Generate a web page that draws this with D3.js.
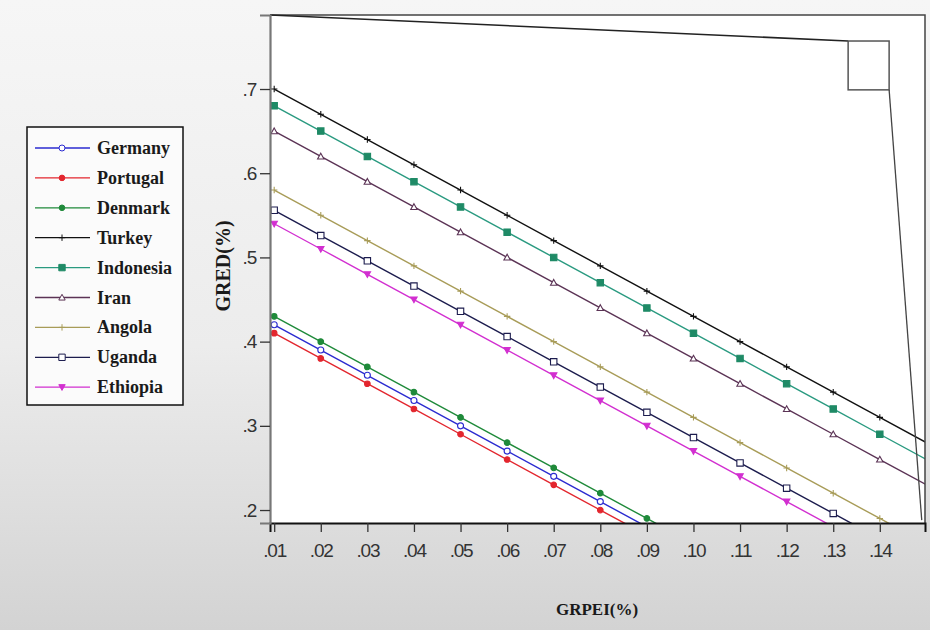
<!DOCTYPE html>
<html>
<head>
<meta charset="utf-8">
<script src="https://cdn.jsdelivr.net/npm/d3@7"></script>
<style>
  body { margin: 0; background: #e8e8e8; }
  #chart { width: 930px; height: 630px; }
</style>
</head>
<body>
<div id="chart"></div>
<script>
(function(){
    var width = 930;
    var height = 630;

    // data
    var xValues = [.01, .02, .03, .04, .05, .06, .07, .08, .09, .10, .11, .12, .13, .14, .15];
    var xTicks = [.01, .02, .03, .04, .05, .06, .07, .08, .09, .10, .11, .12, .13, .14];
    var yTicks = [.2, .3, .4, .5, .6, .7];

    var countries = ["Germany", "Portugal", "Denmark", "Turkey", "Indonesia", "Iran", "Angola", "Uganda", "Ethiopia"];

    var germany   = [.42, .39, .36, .33, .30, .27, .24, .21, .18, .15, .12, .09, .06, .03, .00];
    var portugal  = [.41, .38, .35, .32, .29, .26, .23, .20, .17, .14, .11, .08, .05, .02, -.01];
    var denmark   = [.43, .40, .37, .34, .31, .28, .25, .22, .19, .16, .13, .10, .07, .04, .01];
    var turkey    = [.70, .67, .64, .61, .58, .55, .52, .49, .46, .43, .40, .37, .34, .31, .28];
    var indonesia = [.68, .65, .62, .59, .56, .53, .50, .47, .44, .41, .38, .35, .32, .29, .26];
    var iran      = [.65, .62, .59, .56, .53, .50, .47, .44, .41, .38, .35, .32, .29, .26, .23];
    var angola    = [.58, .55, .52, .49, .46, .43, .40, .37, .34, .31, .28, .25, .22, .19, .16];
    var uganda    = [.556, .526, .496, .466, .436, .406, .376, .346, .316, .286, .256, .226, .196, .166, .136];
    var ethiopia  = [.54, .51, .48, .45, .42, .39, .36, .33, .30, .27, .24, .21, .18, .15, .12];

    var seriesValues = [germany, portugal, denmark, turkey, indonesia, iran, angola, uganda, ethiopia];

    var lineColors   = ["#2b2bd0", "#e3262e", "#1f8a3a", "#111111", "#2a9a80", "#5b3355", "#a89c58", "#1c1c4e", "#d22fd0"];
    var markerColors = ["#2b2bd0", "#e3262e", "#1f8a3a", "#111111", "#1f8a66", "#5b3355", "#a89c58", "#1c1c4e", "#d22fd0"];
    var markerTypes  = ["circleOpen", "dot", "dot", "plus", "square", "triangleOpen", "plus", "squareOpen", "triDown"];

    // zoom callout that sits on the original picture (data units)
    var boxX = [.1332, .1420];
    var boxY = [.757, .699];
    var calloutEnd = [.1490, .188];

    var plot = {left: 270, right: 925, top: 15, bottom: 523};

    var svg = d3.select("#chart")
        .append("svg")
        .attr("width", width)
        .attr("height", height)
        .style("font-family", "'Liberation Sans', Arial, sans-serif")

    var defs = svg.append("defs")
    var grad = defs.append("linearGradient")
        .attr("id", "bg")
        .attr("x1", 0).attr("y1", 0).attr("x2", 0).attr("y2", 1)
    grad.append("stop").attr("offset", "0%").attr("stop-color", "#f6f6f6")
    grad.append("stop").attr("offset", "55%").attr("stop-color", "#ececec")
    grad.append("stop").attr("offset", "100%").attr("stop-color", "#d3d3d3")

    defs.append("clipPath")
        .attr("id", "plot-clip")
        .append("rect")
        .attr("x", plot.left)
        .attr("y", plot.top)
        .attr("width", plot.right - plot.left)
        .attr("height", plot.bottom - plot.top)

    svg.append("rect")
        .attr("width", width)
        .attr("height", height)
        .attr("fill", "url(#bg)")

    var x = d3.scaleLinear().domain([0.0091, 0.1497]).range([plot.left, plot.right])
    var y = d3.scaleLinear().domain([0.1846, 0.7879]).range([plot.bottom, plot.top])

    svg.append("rect")
        .attr("x", plot.left)
        .attr("y", plot.top)
        .attr("width", plot.right - plot.left)
        .attr("height", plot.bottom - plot.top)
        .attr("fill", "#ffffff")

    // series
    var lines = svg.append("g").attr("clip-path", "url(#plot-clip)")

    var line = d3.line()
        .x(function(d, i){ return x(xValues[i]) })
        .y(function(d){ return y(d) })

    function markerPath(type, cx, cy) {
        var s = 3.2;
        if (type == "plus") {
            return "M" + (cx - s) + "," + cy + "H" + (cx + s) + "M" + cx + "," + (cy - s) + "V" + (cy + s);
        }
        if (type == "square" || type == "squareOpen") {
            return "M" + (cx - s) + "," + (cy - s) + "h" + (2 * s) + "v" + (2 * s) + "h" + (-2 * s) + "Z";
        }
        if (type == "triangleOpen") {
            return "M" + cx + "," + (cy - s) + "L" + (cx + s) + "," + (cy + s * 0.8) + "L" + (cx - s) + "," + (cy + s * 0.8) + "Z";
        }
        if (type == "triDown") {
            return "M" + (cx - s) + "," + (cy - s * 0.8) + "L" + (cx + s) + "," + (cy - s * 0.8) + "L" + cx + "," + (cy + s) + "Z";
        }
        var r = type == "dot" ? 2.8 : 3;
        return "M" + (cx + r) + "," + cy + "A" + r + "," + r + " 0 1,1 " + (cx - r) + "," + cy + "A" + r + "," + r + " 0 1,1 " + (cx + r) + "," + cy;
    }

    function markerFill(type, color) {
        if (type == "circleOpen" || type == "squareOpen" || type == "triangleOpen") return "#ffffff";
        if (type == "plus") return "none";
        return color;
    }

    seriesValues.forEach(function(vals, k){
        lines.append("path")
            .datum(vals)
            .attr("d", line)
            .attr("fill", "none")
            .attr("stroke", lineColors[k])
            .attr("stroke-width", 1.4)
    })

    seriesValues.forEach(function(vals, k){
        // only the markers whose x lies inside the axis range
        var pts = vals.map(function(v, i){ return {x: xValues[i], v: v} })
            .filter(function(p){ return p.x <= x.domain()[1] })
        lines.selectAll(".m" + k)
            .data(pts)
            .enter().append("path")
            .attr("class", "m" + k)
            .attr("d", function(p){
                return markerPath(markerTypes[k], x(p.x), y(p.v))
            })
            .attr("fill", markerFill(markerTypes[k], markerColors[k]))
            .attr("stroke", markerColors[k])
            .attr("stroke-width", 1.1)
    })

    // frame and callout lines
    svg.append("path")
        .attr("d", "M" + x.range()[0] + "," + y.range()[1] + "H" + x.range()[1] + "V" + y.range()[0])
        .attr("fill", "none")
        .attr("stroke", "#444")
        .attr("stroke-width", 1.5)

    svg.append("path")
        .attr("d", "M" + x.range()[0] + "," + y.range()[1] + "L" + x(boxX[0]) + "," + y(boxY[0]))
        .attr("fill", "none")
        .attr("stroke", "#222")
        .attr("stroke-width", 1.6)

    svg.append("rect")
        .attr("x", x(boxX[0]))
        .attr("y", y(boxY[0]))
        .attr("width", x(boxX[1]) - x(boxX[0]))
        .attr("height", y(boxY[1]) - y(boxY[0]))
        .attr("fill", "none")
        .attr("stroke", "#555")
        .attr("stroke-width", 1.5)

    svg.append("path")
        .attr("d", "M" + x(boxX[1]) + "," + y(boxY[1]) + "L" + x(calloutEnd[0]) + "," + y(calloutEnd[1]))
        .attr("fill", "none")
        .attr("stroke", "#444")
        .attr("stroke-width", 1.3)

    // axes
    var fmt2 = d3.format(".2f")
    var fmt1 = d3.format(".1f")

    var xAxis = svg.append("g")
        .attr("transform", "translate(0," + plot.bottom + ")")
        .call(d3.axisBottom(x)
            .tickValues(xTicks)
            .tickSize(9)
            .tickPadding(12)
            .tickFormat(function(d){ return fmt2(d).replace(/^0/, "") }))
    xAxis.select(".domain").attr("stroke", "#111").attr("stroke-width", 2)
    xAxis.selectAll(".tick line").attr("stroke", "#333").attr("stroke-width", 1.3)
    xAxis.selectAll("text")
        .attr("font-size", 19)
        .attr("font-family", "'Liberation Sans', Arial, sans-serif")
        .attr("fill", "#333")
        .style("letter-spacing", "-1.2px")

    var yAxis = svg.append("g")
        .attr("transform", "translate(" + plot.left + ",0)")
        .call(d3.axisLeft(y)
            .tickValues(yTicks)
            .tickSize(10)
            .tickPadding(4)
            .tickFormat(function(d){ return fmt1(d).replace(/^0/, "") }))
    yAxis.select(".domain").attr("stroke", "#777").attr("stroke-width", 2.2)
    yAxis.selectAll(".tick line").attr("stroke", "#333").attr("stroke-width", 1.3)
    yAxis.selectAll("text")
        .attr("font-size", 19)
        .attr("font-family", "'Liberation Sans', Arial, sans-serif")
        .attr("fill", "#333")
        .style("letter-spacing", "-1.2px")

    // axis titles
    svg.append("text")
        .attr("transform", "translate(" + 230 + "," + 266 + ") rotate(-90)")
        .attr("text-anchor", "middle")
        .attr("font-family", "'Liberation Serif', 'Times New Roman', serif")
        .attr("font-weight", "bold")
        .attr("font-size", 20)
        .attr("fill", "#1a1a1a")
        .text("GRED(%)")

    svg.append("text")
        .attr("x", 597)
        .attr("y", 615)
        .attr("text-anchor", "middle")
        .attr("font-family", "'Liberation Serif', 'Times New Roman', serif")
        .attr("font-weight", "bold")
        .attr("font-size", 17)
        .attr("fill", "#1a1a1a")
        .text("GRPEI(%)")

    // legend
    var legend = svg.append("g").attr("transform", "translate(27,127)")
    legend.append("rect")
        .attr("width", 156)
        .attr("height", 278)
        .attr("fill", "#fbfbfb")
        .attr("stroke", "#111")
        .attr("stroke-width", 1.5)

    var rows = legend.selectAll(".row")
        .data(countries)
        .enter().append("g")
        .attr("class", "row")
        .attr("transform", function(d, i){ return "translate(0," + (21 + i * 29.9) + ")" })

    rows.append("line")
        .attr("x1", 8).attr("x2", 63)
        .attr("y1", 0).attr("y2", 0)
        .attr("stroke", function(d, i){ return lineColors[i] })
        .attr("stroke-width", 1.3)

    rows.append("path")
        .attr("d", function(d, i){ return markerPath(markerTypes[i], 35, 0) })
        .attr("fill", function(d, i){ return markerFill(markerTypes[i], markerColors[i]) })
        .attr("stroke", function(d, i){ return markerColors[i] })
        .attr("stroke-width", 1)

    rows.append("text")
        .attr("x", 70)
        .attr("y", 6)
        .attr("font-family", "'Liberation Serif', 'Times New Roman', serif")
        .attr("font-weight", "bold")
        .attr("font-size", 18)
        .attr("fill", "#1a1a1a")
        .text(function(d){ return d })
})();
</script>
</body>
</html>
